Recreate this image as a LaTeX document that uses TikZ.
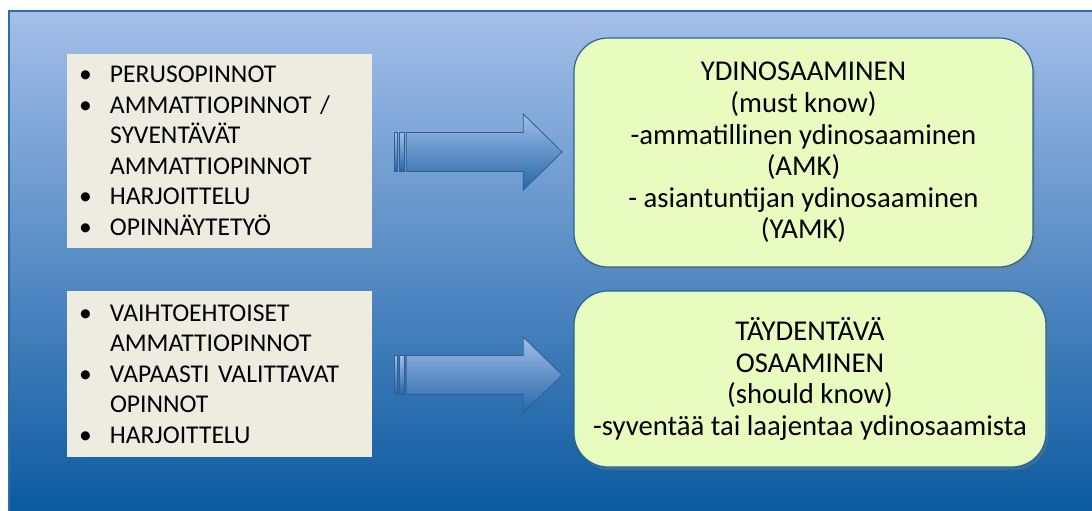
\documentclass[tikz,border=0pt]{standalone}
\usepackage{fontspec}
\setmainfont{Carlito}
\usetikzlibrary{shadows}

\definecolor{bgtop}{RGB}{164,191,233}
\definecolor{bgmid}{RGB}{118,163,217}
\definecolor{bgbot}{RGB}{12,90,160}
\definecolor{bgline}{RGB}{46,108,165}
\definecolor{listfill}{RGB}{238,236,225}
\definecolor{goalfill}{RGB}{232,252,192}
\definecolor{goalline}{RGB}{40,100,145}
\definecolor{arrowtop}{RGB}{160,190,232}
\definecolor{arrowbot}{RGB}{38,102,168}
\definecolor{arrowline}{RGB}{45,95,145}

\newcommand{\listdot}{\makebox[31pt][l]{•}}
\newcommand{\listgap}{\hspace*{31pt}}

\tikzset{
  listbox/.style={fill=listfill, minimum width=305pt, text width=281pt,
    inner xsep=12pt, inner ysep=0pt, align=left,
    font=\fontsize{25.6}{30.5}\selectfont},
  goalbox/.style={draw=goalline, line width=1.2pt, fill=goalfill,
    rounded corners=34pt, inner sep=0pt, align=center,
    font=\fontsize{28.7}{31.6}\selectfont,
    drop shadow={shadow xshift=2pt, shadow yshift=-3pt, opacity=0.35}},
  blockarrow/.style={top color=arrowtop, bottom color=arrowbot,
    draw=arrowline, line width=0.8pt}
}

\begin{document}
\begin{tikzpicture}[x=1pt,y=-1pt]
    \useasboundingbox (0,0) rectangle (1092,511);
    % background
    \shade[top color=bgtop, middle color=bgmid, bottom color=bgbot] (9,11) rectangle (1092,511);
    \draw[bgline, line width=1.5pt] (1092,11) -- (9,11) -- (9,511);

    % left lists
    \node[listbox, minimum height=194pt] (list1) at (219.5,151)
        {\listdot PERUSOPINNOT\\ \listdot AMMATTIOPINNOT /\\ \listgap SYVENTÄVÄT\\
         \listgap AMMATTIOPINNOT\\ \listdot HARJOITTELU\\ \listdot OPINNÄYTETYÖ};
    \node[listbox, minimum height=166pt] (list2) at (219.5,374)
        {\listdot VAIHTOEHTOISET\\ \listgap AMMATTIOPINNOT\\ \listdot VAPAASTI VALITTAVAT\\
         \listgap OPINNOT\\ \listdot HARJOITTELU};

    % right boxes
    \node[goalbox, minimum width=459pt, minimum height=229pt] (goal1) at (803.5,152.5)
        {YDINOSAAMINEN\\ (must know)\\ -ammatillinen ydinosaaminen\\ (AMK)\\
         - asiantuntijan ydinosaaminen\\ (YAMK)};
    \node[goalbox, minimum width=472pt, minimum height=176pt] (goal2) at (810,379)
        {TÄYDENTÄVÄ\\ OSAAMINEN\\ (should know)\\ -syventää tai laajentaa ydinosaamista};

    % arrows
    \foreach \a in {list1,list2} {
        \begin{scope}[shift={(\a.east)}, yshift=-1pt]
            \shade[blockarrow] (22,-19.5) rectangle (25.5,19.5);
            \shade[blockarrow] (27.5,-19.5) rectangle (32,19.5);
            \shade[blockarrow] (34,-19.5) -- (151,-19.5) -- (151,-38) -- (190,0)
                -- (151,38) -- (151,19.5) -- (34,19.5) -- cycle;
        \end{scope}
    }
\end{tikzpicture}
\end{document}
